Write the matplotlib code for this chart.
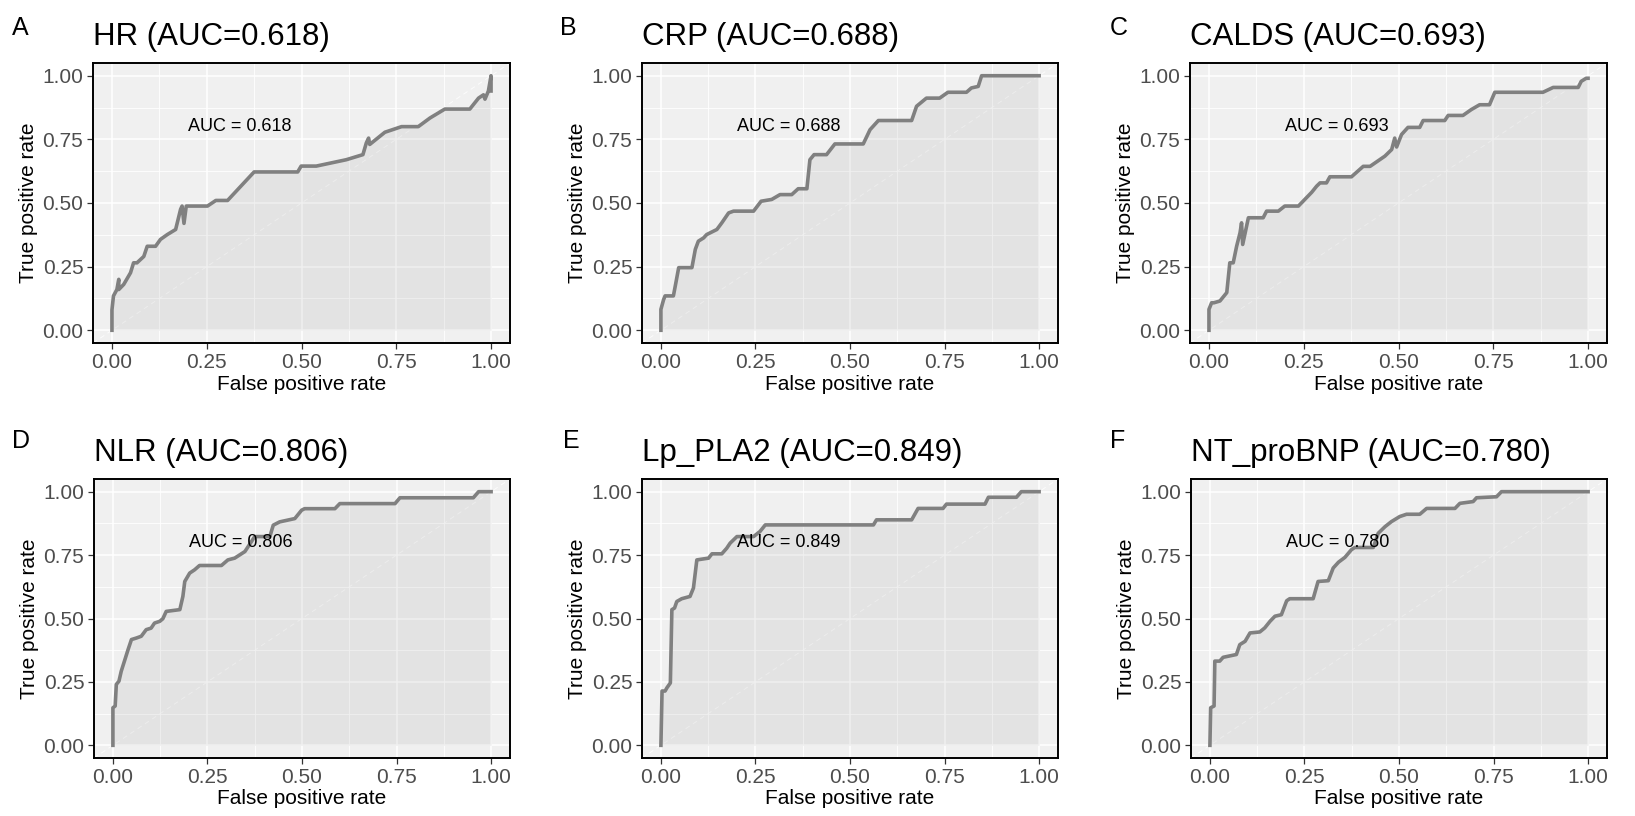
import matplotlib
matplotlib.use("Agg")
import matplotlib.pyplot as plt
import matplotlib.ticker as ticker

plt.rcParams.update({
    "font.family": ["Liberation Sans", "DejaVu Sans"],
    "axes.linewidth": 1.4,
})

# ── ROC data ──
markers = ["HR", "CRP", "CALDS", "NLR", "Lp_PLA2", "NT_proBNP"]
auc_values = [0.618, 0.688, 0.693, 0.806, 0.849, 0.780]
panel_letters = ["A", "B", "C", "D", "E", "F"]

fpr_hr = [0, 0, 0.004, 0.013, 0.018, 0.018, 0.031, 0.049, 0.057, 0.066, 0.084, 0.093,
          0.115, 0.128, 0.146, 0.168, 0.181, 0.185, 0.19, 0.196, 0.252, 0.274, 0.305,
          0.375, 0.49, 0.499, 0.539, 0.618, 0.662, 0.671, 0.677, 0.68, 0.72, 0.764,
          0.808, 0.839, 0.878, 0.944, 0.967, 0.98, 0.984, 0.993, 1.0, 1.0]
tpr_hr = [0, 0.08, 0.135, 0.16, 0.2, 0.16, 0.18, 0.226, 0.265, 0.265, 0.29, 0.33,
          0.33, 0.357, 0.376, 0.396, 0.475, 0.488, 0.42, 0.488, 0.488, 0.51, 0.51,
          0.622, 0.622, 0.645, 0.645, 0.67, 0.69, 0.736, 0.755, 0.73, 0.778, 0.8,
          0.8, 0.834, 0.869, 0.869, 0.912, 0.925, 0.908, 0.94, 1.0, 0.94]

fpr_crp = [0, 0, 0.007, 0.011, 0.033, 0.038, 0.047, 0.082, 0.091, 0.099, 0.113, 0.121,
           0.148, 0.161, 0.179, 0.192, 0.245, 0.265, 0.293, 0.315, 0.346, 0.363, 0.386,
           0.394, 0.405, 0.438, 0.46, 0.535, 0.553, 0.575, 0.663, 0.676, 0.702, 0.737,
           0.759, 0.808, 0.821, 0.839, 0.848, 1.0]
tpr_crp = [0, 0.082, 0.12, 0.135, 0.135, 0.174, 0.246, 0.246, 0.318, 0.35, 0.363, 0.376,
           0.396, 0.422, 0.461, 0.468, 0.468, 0.507, 0.514, 0.533, 0.533, 0.556, 0.556,
           0.67, 0.69, 0.69, 0.732, 0.732, 0.788, 0.824, 0.824, 0.88, 0.912, 0.912,
           0.935, 0.935, 0.952, 0.958, 1.0, 1.0]

fpr_calds = [0, 0, 0.007, 0.013, 0.029, 0.047, 0.055, 0.064, 0.073, 0.082, 0.086, 0.089,
             0.104, 0.143, 0.152, 0.183, 0.2, 0.236, 0.271, 0.284, 0.293, 0.31, 0.319,
             0.376, 0.407, 0.425, 0.464, 0.482, 0.49, 0.495, 0.508, 0.525, 0.556, 0.565,
             0.622, 0.631, 0.67, 0.692, 0.714, 0.74, 0.754, 0.881, 0.908, 0.974, 0.982,
             0.995, 1.0]
tpr_calds = [0, 0.082, 0.108, 0.108, 0.115, 0.148, 0.265, 0.265, 0.33, 0.383, 0.422, 0.337,
             0.442, 0.442, 0.468, 0.468, 0.488, 0.488, 0.542, 0.566, 0.579, 0.579, 0.603,
             0.603, 0.644, 0.644, 0.684, 0.71, 0.755, 0.72, 0.769, 0.797, 0.797, 0.824,
             0.824, 0.844, 0.844, 0.867, 0.886, 0.886, 0.935, 0.935, 0.954, 0.954, 0.978,
             0.99, 0.99]

fpr_nlr = [0, 0, 0.006, 0.009, 0.016, 0.022, 0.029, 0.04, 0.049, 0.062, 0.075, 0.088,
           0.101, 0.11, 0.124, 0.132, 0.141, 0.177, 0.185, 0.19, 0.203, 0.216, 0.229,
           0.287, 0.304, 0.322, 0.349, 0.375, 0.415, 0.424, 0.441, 0.481, 0.499, 0.507,
           0.587, 0.6, 0.746, 0.759, 0.953, 0.967, 1.0]
tpr_nlr = [0, 0.148, 0.155, 0.24, 0.253, 0.292, 0.325, 0.377, 0.417, 0.423, 0.43, 0.456,
           0.462, 0.482, 0.489, 0.499, 0.528, 0.535, 0.587, 0.646, 0.679, 0.692, 0.709,
           0.709, 0.731, 0.738, 0.764, 0.823, 0.823, 0.868, 0.881, 0.894, 0.927, 0.933,
           0.933, 0.953, 0.953, 0.976, 0.976, 1.0, 1.0]

fpr_lp = [0, 0.003, 0.011, 0.016, 0.025, 0.029, 0.036, 0.042, 0.055, 0.077, 0.086, 0.095,
          0.126, 0.135, 0.161, 0.174, 0.183, 0.201, 0.245, 0.262, 0.276, 0.562, 0.57,
          0.663, 0.68, 0.746, 0.755, 0.857, 0.866, 0.94, 0.953, 1.0]
tpr_lp = [0, 0.214, 0.214, 0.227, 0.246, 0.535, 0.541, 0.567, 0.578, 0.587, 0.62, 0.731,
          0.738, 0.755, 0.755, 0.777, 0.797, 0.823, 0.823, 0.843, 0.869, 0.869, 0.889,
          0.889, 0.934, 0.934, 0.951, 0.951, 0.978, 0.978, 1.0, 1.0]

fpr_bnp = [0, 0.002, 0.011, 0.013, 0.026, 0.035, 0.07, 0.079, 0.093, 0.106, 0.132, 0.145,
           0.159, 0.172, 0.189, 0.203, 0.211, 0.273, 0.286, 0.313, 0.326, 0.34, 0.357,
           0.374, 0.383, 0.432, 0.445, 0.463, 0.48, 0.502, 0.52, 0.555, 0.573, 0.648,
           0.661, 0.696, 0.705, 0.758, 0.771, 1.0]
tpr_bnp = [0, 0.148, 0.155, 0.332, 0.332, 0.347, 0.358, 0.397, 0.41, 0.443, 0.447, 0.463,
           0.489, 0.509, 0.515, 0.57, 0.578, 0.578, 0.646, 0.649, 0.699, 0.722, 0.741,
           0.771, 0.78, 0.78, 0.836, 0.862, 0.882, 0.902, 0.911, 0.911, 0.934, 0.934,
           0.954, 0.961, 0.976, 0.98, 1.0, 1.0]

curves = [(fpr_hr, tpr_hr), (fpr_crp, tpr_crp), (fpr_calds, tpr_calds),
          (fpr_nlr, tpr_nlr), (fpr_lp, tpr_lp), (fpr_bnp, tpr_bnp)]

# ── Layout (pixel boxes: left, top, right, bottom) ──
W, H = 1635, 816
boxes = [(93, 63, 510, 343), (642, 63, 1058, 343), (1190, 63, 1607, 343),
         (94, 479, 510, 758), (642, 479, 1058, 758), (1191, 479, 1607, 758)]
letter_pos = [(12, 35), (560, 35), (1110, 35), (12, 448), (563, 448), (1110, 448)]

PANEL_BG = "#F0F0F0"
LINE = "#808080"

fig = plt.figure(figsize=(W / 100, H / 100), dpi=100)
fig.patch.set_facecolor("white")

for i, (fpr, tpr) in enumerate(curves):
    l, t, r, b = boxes[i]
    ax = fig.add_axes([l / W, 1 - b / H, (r - l) / W, (b - t) / H])
    ax.set_facecolor(PANEL_BG)
    ax.set_xlim(-0.05, 1.05)
    ax.set_ylim(-0.05, 1.05)
    ax.xaxis.set_major_locator(ticker.MultipleLocator(0.25))
    ax.yaxis.set_major_locator(ticker.MultipleLocator(0.25))
    ax.xaxis.set_minor_locator(ticker.MultipleLocator(0.125))
    ax.yaxis.set_minor_locator(ticker.MultipleLocator(0.125))
    ax.xaxis.set_major_formatter(ticker.FormatStrFormatter("%.2f"))
    ax.yaxis.set_major_formatter(ticker.FormatStrFormatter("%.2f"))
    ax.grid(True, which="major", color="white", linewidth=1.1, zorder=0)
    ax.grid(True, which="minor", color="white", linewidth=0.6, zorder=0)
    ax.set_axisbelow(True)
    ax.tick_params(which="major", length=4, width=0.9, color="#333333",
                   labelsize=15, labelcolor="#4D4D4D", pad=3)
    ax.tick_params(which="minor", length=0)
    for sp in ax.spines.values():
        sp.set_color("black")
        sp.set_linewidth(1.4)

    ax.plot([-0.05, 1.05], [-0.05, 1.05], color="white", linestyle=(0, (5, 4)),
            linewidth=0.7, alpha=0.8, zorder=0.5)
    ax.fill_between(fpr, tpr, 0, color="#9A9A9A", alpha=0.15, linewidth=0, zorder=1)
    ax.plot(fpr, tpr, color=LINE, linewidth=2.6, zorder=3, solid_joinstyle="round")

    ax.text(0.2, 0.8, f"AUC = {auc_values[i]:.3f}", ha="left", va="center",
            fontsize=13, color="black", zorder=4)
    ax.set_xlabel("False positive rate", fontsize=15, labelpad=2)
    ax.set_ylabel("True positive rate", fontsize=15, labelpad=3)
    ax.set_title(f"{markers[i]} (AUC={auc_values[i]:.3f})", loc="left",
                 fontsize=22.5, pad=13)

    lx, ly = letter_pos[i]
    fig.text(lx / W, 1 - ly / H, panel_letters[i], fontsize=18, va="baseline")

fig.savefig("out.png", dpi=100, facecolor="white")
